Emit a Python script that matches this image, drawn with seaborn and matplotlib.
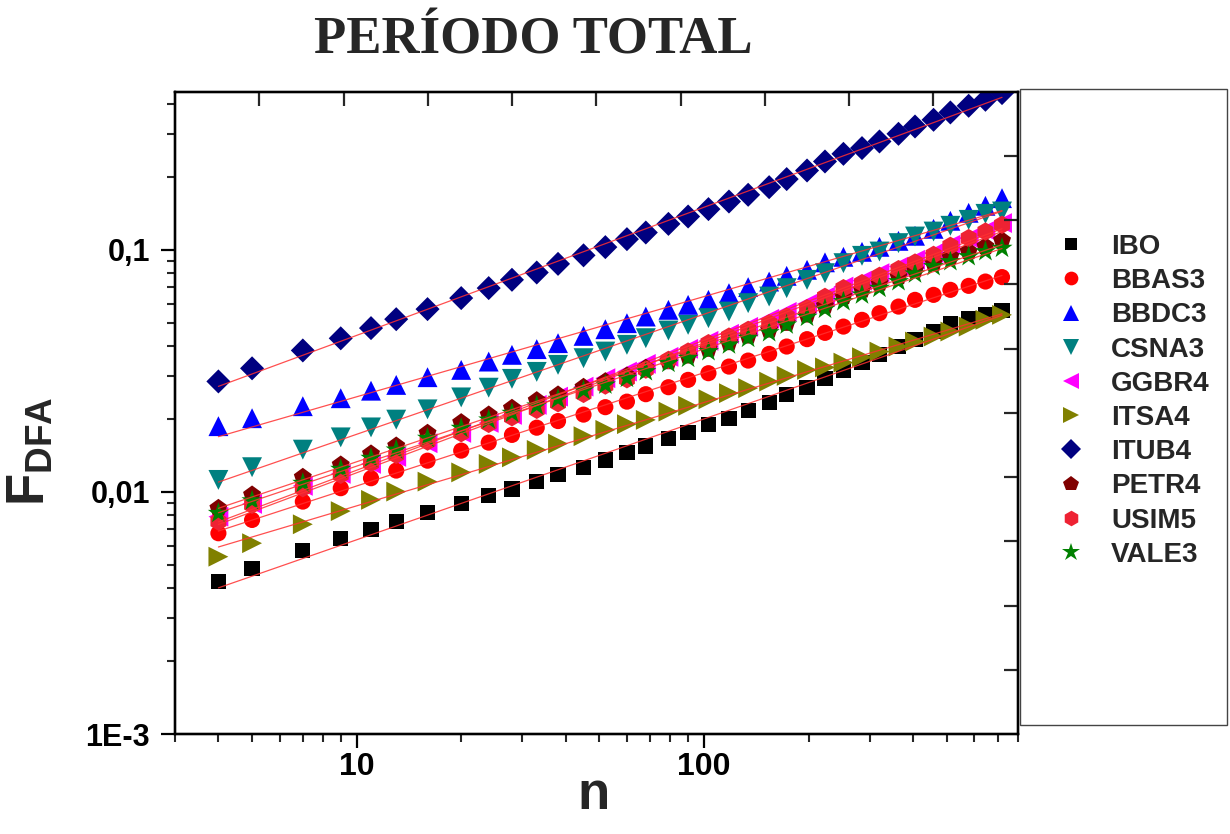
import numpy as np
import pandas as pd
import matplotlib
matplotlib.use("Agg")
import matplotlib.pyplot as plt
import seaborn as sns
from matplotlib.ticker import FixedLocator, FixedFormatter, LogLocator, NullFormatter
from matplotlib.patches import Rectangle

# ---------------- data ----------------
n_values = [4, 5, 7, 9, 11, 13, 16, 20, 24, 28, 33, 38, 45, 52, 60, 68, 79, 90, 103, 118,
            134, 154, 173, 198, 223, 252, 285, 320, 363, 405, 458, 512, 578, 646, 721]

series_names = ["IBO", "BBAS3", "BBDC3", "CSNA3", "GGBR4", "ITSA4", "ITUB4", "PETR4", "USIM5", "VALE3"]

IBO = [0.00426, 0.00481, 0.00572, 0.00641, 0.00702, 0.00754, 0.00823, 0.00899, 0.00966, 0.01029,
       0.01105, 0.01178, 0.01262, 0.01356, 0.01454, 0.01549, 0.01667, 0.01765, 0.01892, 0.02016,
       0.02162, 0.02339, 0.02517, 0.02707, 0.02936, 0.03171, 0.03436, 0.03683, 0.03986, 0.04276,
       0.04597, 0.04944, 0.05222, 0.05424, 0.05613]
BBAS3 = [0.00675, 0.00766, 0.00912, 0.01036, 0.01139, 0.01225, 0.01346, 0.01481, 0.01598, 0.0172,
         0.01842, 0.01962, 0.02086, 0.02239, 0.0236, 0.02533, 0.02707, 0.02903, 0.03093, 0.03294,
         0.03488, 0.03717, 0.03986, 0.04276, 0.0454, 0.04819, 0.05138, 0.05474, 0.05829, 0.06214,
         0.06516, 0.06835, 0.07099, 0.07396, 0.07714]
BBDC3 = [0.01869, 0.02016, 0.0226, 0.02438, 0.02619, 0.02767, 0.02978, 0.03192, 0.03455, 0.03683,
         0.03889, 0.04116, 0.04411, 0.047, 0.04977, 0.05302, 0.05651, 0.05925, 0.06214, 0.06622,
         0.07015, 0.07396, 0.07809, 0.08269, 0.0888, 0.09356, 0.09811, 0.1029, 0.1089, 0.1143,
         0.1221, 0.1318, 0.1422, 0.152, 0.1635]
CSNA3 = [0.01121, 0.01265, 0.01495, 0.0168, 0.01847, 0.01989, 0.02193, 0.02457, 0.02695, 0.02931,
         0.03132, 0.03348, 0.03568, 0.038, 0.04051, 0.04316, 0.04641, 0.04898, 0.05222, 0.05559,
         0.06022, 0.06412, 0.06945, 0.07516, 0.08011, 0.0881, 0.09445, 0.0984, 0.1066, 0.1135,
         0.119, 0.1257, 0.133, 0.1408, 0.144]
GGBR4 = [0.0079, 0.00892, 0.01059, 0.01187, 0.01305, 0.01395, 0.01589, 0.01753, 0.01928, 0.0208,
         0.02288, 0.02475, 0.02722, 0.0295, 0.03141, 0.03379, 0.03613, 0.03899, 0.04207, 0.04497,
         0.04806, 0.05187, 0.05542, 0.05981, 0.0640, 0.07052, 0.07462, 0.08011, 0.08531, 0.09093,
         0.09691, 0.1049, 0.1118, 0.1202, 0.129]
ITSA4 = [0.0054, 0.00614, 0.00735, 0.00833, 0.00927, 0.01003, 0.01103, 0.01204, 0.01305, 0.01389,
         0.01491, 0.01583, 0.01699, 0.01804, 0.01905, 0.01984, 0.02147, 0.02267, 0.02415, 0.02558,
         0.02683, 0.02856, 0.03015, 0.03192, 0.03269, 0.03421, 0.03601, 0.038, 0.03986, 0.04179,
         0.04382, 0.04597, 0.04819, 0.05138, 0.05387]
ITUB4 = [0.0286, 0.0324, 0.0384, 0.0431, 0.0475, 0.0517, 0.0569, 0.0632, 0.0695, 0.0752,
         0.0806, 0.0875, 0.0949, 0.1026, 0.1107, 0.1179, 0.128, 0.1373, 0.1473, 0.1583,
         0.1688, 0.1815, 0.196, 0.2127, 0.2317, 0.2492, 0.2632, 0.2803, 0.3015, 0.3232,
         0.3445, 0.3694, 0.3936, 0.4167, 0.4441]
PETR4 = [0.00856, 0.00972, 0.0115, 0.01293, 0.01436, 0.01549, 0.01748, 0.01934, 0.0208, 0.02217,
         0.02384, 0.02517, 0.02707, 0.02856, 0.03015, 0.03245, 0.03455, 0.03648, 0.03889, 0.0414,
         0.04411, 0.04671, 0.04977, 0.05387, 0.05868, 0.06412, 0.06835, 0.07286, 0.07757, 0.08269,
         0.0881, 0.09383, 0.0984, 0.1032, 0.1092]
USIM5 = [0.00754, 0.00884, 0.01036, 0.01176, 0.01314, 0.01422, 0.01614, 0.01748, 0.0191, 0.02035,
         0.02183, 0.02325, 0.0254, 0.0275, 0.0292, 0.0320, 0.03511, 0.038, 0.04116, 0.04382,
         0.04671, 0.04977, 0.05302, 0.05741, 0.06392, 0.06945, 0.07286, 0.07809, 0.08322, 0.0886,
         0.09535, 0.1039, 0.1118, 0.119, 0.1269]
VALE3 = [0.00816, 0.0092, 0.01086, 0.01241, 0.01378, 0.01491, 0.01667, 0.01833, 0.01984, 0.02114,
         0.02267, 0.02415, 0.02621, 0.02767, 0.0295, 0.03141, 0.03402, 0.03568, 0.038, 0.04051,
         0.04316, 0.04551, 0.04898, 0.05272, 0.05692, 0.06114, 0.06516, 0.06945, 0.07396, 0.07958,
         0.08531, 0.08946, 0.09383, 0.0984, 0.1016]

x_tick_values = [10, 100]
x_tick_labels = ["10", "100"]
y_tick_values = [1e-3, 1e-2, 1e-1]
y_tick_labels = ["1E-3", "0,01", "0,1"]

title_text = "PERÍODO TOTAL"
x_label = "n"
y_label = r"$\mathbf{F}_{\mathbf{DFA}}$"

# ---------------- styling ----------------
colors = {"IBO": "#000000", "BBAS3": "#FF0000", "BBDC3": "#0000FF", "CSNA3": "#008080",
          "GGBR4": "#FF00FF", "ITSA4": "#808000", "ITUB4": "#000080", "PETR4": "#800000",
          "USIM5": "#EE2233", "VALE3": "#008000"}
markers = {"IBO": "s", "BBAS3": "o", "BBDC3": "^", "CSNA3": "v", "GGBR4": "<",
           "ITSA4": ">", "ITUB4": "D", "PETR4": "p", "USIM5": "h", "VALE3": "*"}
sizes = {"IBO": 120, "BBAS3": 135, "BBDC3": 205, "CSNA3": 205, "GGBR4": 205,
         "ITSA4": 205, "ITUB4": 150, "PETR4": 185, "USIM5": 175, "VALE3": 255}

all_values = {"IBO": IBO, "BBAS3": BBAS3, "BBDC3": BBDC3, "CSNA3": CSNA3, "GGBR4": GGBR4,
              "ITSA4": ITSA4, "ITUB4": ITUB4, "PETR4": PETR4, "USIM5": USIM5, "VALE3": VALE3}
df = pd.concat([pd.DataFrame({"n": n_values, "F": all_values[s], "serie": s}) for s in series_names],
               ignore_index=True)

sns.set_theme(style="ticks")
plt.rcParams["font.family"] = ["Liberation Sans", "DejaVu Sans"]
plt.rcParams["font.weight"] = "bold"
plt.rcParams["mathtext.fontset"] = "custom"
plt.rcParams["mathtext.bf"] = "Liberation Sans:bold"
plt.rcParams["mathtext.rm"] = "Liberation Sans:bold"

fig = plt.figure(figsize=(12.3, 8.34), dpi=100)
ax = fig.add_axes([175 / 1230, 1 - 734 / 834, 842.7 / 1230, 642.3 / 834])

sns.scatterplot(data=df, x="n", y="F", hue="serie", style="serie", size="serie",
                hue_order=series_names, style_order=series_names, size_order=series_names,
                palette=colors, markers=markers, sizes=sizes, linewidth=0, edgecolor="none",
                ax=ax, legend=True, zorder=3)

ax.set_xscale("log")
ax.set_yscale("log")
ax.set_xlim(3, 800)
ax.set_ylim(1e-3, 0.45)

# power-law fits (straight lines in log-log)
for s in series_names:
    lx = np.log10(n_values)
    ly = np.log10(all_values[s])
    b, a = np.polyfit(lx, ly, 1)
    xs = np.array([n_values[0], n_values[-1]])
    ax.plot(xs, 10 ** (a + b * np.log10(xs)), color="#FF3030", lw=0.9, alpha=0.85, zorder=4)

# ticks
ax.xaxis.set_major_locator(FixedLocator(x_tick_values))
ax.xaxis.set_major_formatter(FixedFormatter(x_tick_labels))
ax.xaxis.set_minor_locator(LogLocator(base=10, subs=np.arange(2, 10)))
ax.xaxis.set_minor_formatter(NullFormatter())
ax.yaxis.set_major_locator(FixedLocator(y_tick_values))
ax.yaxis.set_major_formatter(FixedFormatter(y_tick_labels))
ax.yaxis.set_minor_locator(LogLocator(base=10, subs=np.arange(2, 10)))
ax.yaxis.set_minor_formatter(NullFormatter())
ax.tick_params(which="major", direction="out", length=10, width=1.6,
               top=False, right=False, colors="black")
ax.tick_params(axis="y", which="major", labelsize=22, pad=8)
ax.tick_params(axis="x", which="major", labelsize=23, pad=3)
ax.tick_params(which="minor", direction="out", length=6, width=1.5, top=False, right=False)
for lab in ax.get_xticklabels() + ax.get_yticklabels():
    lab.set_fontweight("bold")
for sp in ax.spines.values():
    sp.set_visible(True)
    sp.set_linewidth(1.6)
    sp.set_color("black")

ax.set_xlabel(x_label, fontsize=38, fontweight="bold")
ax.set_ylabel(y_label, fontsize=38)
ax.xaxis.set_label_coords(0.497, -0.095)
ax.yaxis.set_label_coords(-0.172, 0.44)
ax.yaxis.label.set_verticalalignment("center")
ax.xaxis.label.set_verticalalignment("center")

# secondary linear axes (top / right inward ticks, no labels)
axt = ax.twiny()
axt.set_xlim(0, 10)
axt.set_xticks(np.arange(1, 10))
axt.tick_params(axis="x", direction="in", length=10, width=1.6, labeltop=False, top=True)
axr = ax.twinx()
axr.set_ylim(0, 10)
axr.set_yticks(np.arange(1, 10))
axr.tick_params(axis="y", direction="in", length=10, width=1.6, labelright=False, right=True)
for a2 in (axt, axr):
    for sp in a2.spines.values():
        sp.set_linewidth(1.6)
        sp.set_color("black")

# legend
handles, labels = ax.get_legend_handles_labels()
ax.get_legend().remove()
hl = [(h, l) for h, l in zip(handles, labels) if l in series_names]
leg = fig.legend([h for h, _ in hl], [l for _, l in hl], loc="upper left",
                 bbox_to_anchor=(1057 / 1230, 1 - 234 / 834), frameon=False,
                 handlelength=1.0, handletextpad=0.95, labelspacing=0.295,
                 borderpad=0, borderaxespad=0, markerscale=0.85,
                 prop={"weight": "bold", "size": 20})
fig.add_artist(Rectangle((1020 / 1230, 1 - 725 / 834), 207 / 1230, 636 / 834,
                         transform=fig.transFigure, fill=False, edgecolor="#444444", lw=1.0))

fig.text(533 / 1230, 1 - 41 / 834, title_text, fontfamily="Liberation Serif", fontweight="bold",
         fontsize=38, ha="center", va="center")

fig.savefig("out.png", dpi=100)
